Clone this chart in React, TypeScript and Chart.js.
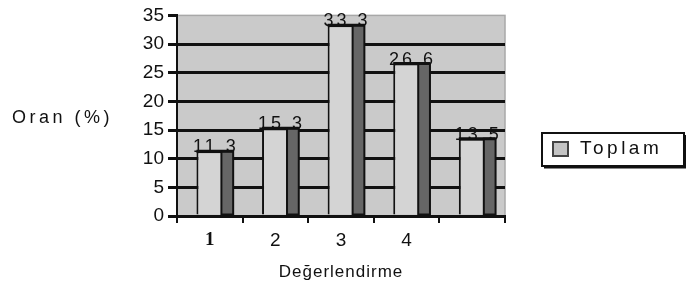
import React, { useEffect, useRef } from "react";
import { Chart, registerables } from "chart.js";

Chart.register(...registerables);

const categories = ["1", "2", "3", "4", ""];
const toplamValues = [11.3, 15.3, 33.3, 26.6, 13.5];
const valueLabels = ["11.3", "15.3", "33.3", "26.6", "13.5"];
const seriesName = "Toplam";
const yTitle = "Oran (%)";
const xTitle = "Değerlendirme";

const FONT = "'Liberation Sans', Arial, sans-serif";
const BAR_SHIFT = 5;

const decorPlugin = {
  id: "decor",
  beforeDraw(chart: any) {
    const { ctx, chartArea } = chart;
    ctx.save();
    ctx.fillStyle = "#cacaca";
    ctx.fillRect(chartArea.left, chartArea.top, chartArea.right - chartArea.left, chartArea.bottom - chartArea.top);
    ctx.strokeStyle = "#a8a8a8";
    ctx.lineWidth = 1.5;
    ctx.strokeRect(chartArea.left, chartArea.top, chartArea.right - chartArea.left, chartArea.bottom - chartArea.top);
    ctx.restore();
  },
  beforeDatasetsDraw(chart: any) {
    chart.ctx.save();
    chart.ctx.translate(BAR_SHIFT, 0);
  },
  afterDatasetsDraw(chart: any) {
    const { ctx } = chart;
    const meta = chart.getDatasetMeta(0);
    meta.data.forEach((bar: any, i: number) => {
      const { x, y, base, width } = bar.getProps(["x", "y", "base", "width"], true);
      const right = x + width / 2;
      const sideW = width * 0.32;
      ctx.fillStyle = "#666666";
      ctx.fillRect(right - sideW, y, sideW, base - y);
      ctx.strokeStyle = "#111";
      ctx.lineWidth = 2;
      ctx.strokeRect(right - sideW, y, sideW, base - y);
      ctx.beginPath();
      ctx.lineWidth = 3;
      ctx.moveTo(x - width / 2, y);
      ctx.lineTo(right, y);
      ctx.stroke();
      ctx.fillStyle = "#111";
      ctx.font = `18px ${FONT}`;
      (ctx as any).letterSpacing = "3px";
      ctx.textAlign = "center";
      ctx.textBaseline = "middle";
      ctx.fillText(valueLabels[i], x + 1, y - 4);
    });
    ctx.restore();
  },
  afterDraw(chart: any) {
    const { ctx, chartArea } = chart;
    ctx.save();
    ctx.fillStyle = "#111";
    ctx.textBaseline = "middle";
    ctx.font = `18px ${FONT}`;
    (ctx as any).letterSpacing = "3.5px";
    ctx.textAlign = "left";
    ctx.fillText(yTitle, 12, 118);
    ctx.font = `17px ${FONT}`;
    (ctx as any).letterSpacing = "1px";
    ctx.textAlign = "center";
    ctx.fillText(xTitle, (chartArea.left + chartArea.right) / 2, 272);
    const lx = 542, ly = 133, lw = 142, lh = 33;
    ctx.fillStyle = "#ffffff";
    ctx.fillRect(lx, ly, lw, lh);
    ctx.strokeStyle = "#111";
    ctx.lineWidth = 2;
    ctx.strokeRect(lx, ly, lw, lh);
    ctx.beginPath();
    ctx.moveTo(lx + 2, ly + lh + 1.5);
    ctx.lineTo(lx + lw + 1.5, ly + lh + 1.5);
    ctx.lineTo(lx + lw + 1.5, ly + 2);
    ctx.stroke();
    ctx.fillStyle = "#c4c4c4";
    ctx.fillRect(lx + 11, ly + 9, 15, 14);
    ctx.strokeStyle = "#444";
    ctx.lineWidth = 2;
    ctx.strokeRect(lx + 11, ly + 9, 15, 14);
    ctx.fillStyle = "#111";
    ctx.font = `19px ${FONT}`;
    (ctx as any).letterSpacing = "3.5px";
    ctx.textAlign = "left";
    ctx.fillText(seriesName, lx + 38, ly + 16);
    ctx.restore();
  },
};

export default function App() {
  const ref = useRef<HTMLCanvasElement>(null);
  useEffect(() => {
    if (!ref.current) return;
    const chart = new Chart(ref.current, {
      type: "bar",
      data: {
        labels: categories,
        datasets: [
          {
            label: seriesName,
            data: toplamValues,
            backgroundColor: "#d4d4d4",
            borderColor: "#111",
            borderWidth: 2,
            barPercentage: 0.56,
            categoryPercentage: 1,
          },
        ],
      },
      options: {
        animation: false,
        responsive: false,
        maintainAspectRatio: false,
        layout: { padding: { top: 15, left: 0, right: 181, bottom: 0 } },
        plugins: { legend: { display: false }, tooltip: { enabled: false } },
        scales: {
          x: {
            offset: true,
            afterFit: (s: any) => { s.height = 79; },
            border: { color: "#111", width: 2 },
            grid: { offset: true, drawOnChartArea: false, tickLength: 7, tickColor: "#111", lineWidth: 2 },
            ticks: {
              color: "#111",
              padding: 6,
              font: (c: any) =>
                c.index === 0
                  ? { family: "'Liberation Serif', 'Times New Roman', serif", size: 19, weight: "bold" }
                  : { family: FONT, size: 19 },
            },
          },
          y: {
            min: 0,
            max: 35,
            afterFit: (s: any) => { s.width = 177; },
            border: { color: "#111", width: 2 },
            grid: {
              color: (c: any) => (c.tick && c.tick.value === 35 ? "rgba(0,0,0,0)" : "#111"),
              lineWidth: 3,
              tickLength: 9,
              tickColor: "#111",
            },
            ticks: {
              stepSize: 5,
              color: "#111",
              padding: 4,
              font: { family: FONT, size: 19 },
            },
          },
        },
      },
      plugins: [decorPlugin],
    });
    return () => chart.destroy();
  }, []);
  return (
    <div style={{ position: "fixed", left: 0, top: 0, width: 686, height: 295, background: "#fff" }}>
      <canvas ref={ref} width={686} height={295} style={{ width: 686, height: 295 }} />
    </div>
  );
}
